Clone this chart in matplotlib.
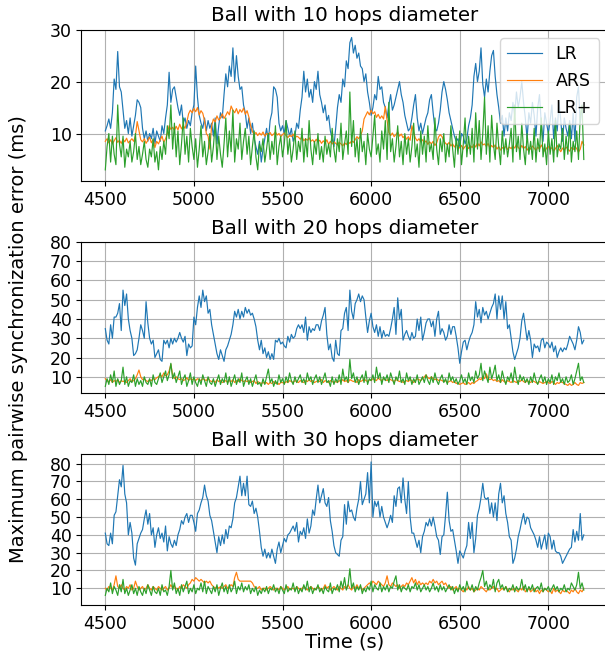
import numpy as np
import matplotlib
matplotlib.use('Agg')
import matplotlib.pyplot as plt

# sampling grid of the traces (s)
time_s = np.arange(4500, 7201, 10)

# ---- Ball with 10 hops diameter ----
lr_10 = [
    10.5, 11.5, 12.8, 11.0, 14.0, 20.5, 18.5, 25.8, 19.0, 18.0,
    14.5, 11.0, 12.5, 10.0, 13.0, 9.5, 11.5, 13.5, 16.5, 16.0,
    15.0, 11.0, 9.0, 10.5, 8.5, 10.0, 9.0, 11.0, 8.0, 10.5,
    9.5, 8.5, 11.5, 10.0, 13.0, 15.5, 21.8, 16.0, 18.5, 19.0,
    17.0, 15.0, 13.5, 15.5, 12.0, 13.0, 11.0, 12.5, 11.5, 14.0,
    15.5, 23.0, 17.0, 13.5, 12.0, 11.0, 13.0, 10.5, 12.5, 11.0,
    12.0, 9.5, 13.0, 8.0, 11.5, 14.0, 13.0, 17.5, 21.5, 19.0,
    23.0, 21.0, 26.5, 20.0, 25.0, 21.0, 18.5, 19.0, 15.5, 14.0,
    11.0, 13.0, 10.0, 12.0, 9.0, 7.5, 6.0, 8.5, 4.5, 7.0,
    9.0, 11.0, 8.5, 12.5, 14.0, 19.0, 18.5, 17.0, 12.0, 10.5,
    11.5, 10.0, 12.5, 11.0, 9.5, 11.0, 8.5, 9.5, 12.0, 11.0,
    14.5, 17.0, 22.0, 18.0, 20.5, 17.0, 18.5, 16.0, 20.0, 18.5,
    22.0, 17.5, 16.0, 14.0, 15.5, 12.5, 13.5, 10.5, 9.0, 7.5,
    11.0, 15.0, 17.5, 16.0, 20.5, 19.0, 24.0, 22.5, 27.5, 28.5,
    25.5, 27.0, 24.5, 25.5, 23.0, 22.5, 20.0, 21.5, 18.0, 16.0,
    13.5, 15.0, 17.5, 16.5, 21.0, 18.5, 19.0, 16.0, 15.0, 13.0,
    15.5, 17.5, 14.5, 15.5, 17.0, 18.5, 20.0, 17.5, 16.0, 13.5,
    12.0, 10.5, 11.0, 13.0, 15.5, 17.5, 13.0, 10.5, 12.0, 10.0,
    11.5, 13.0, 14.0, 16.5, 17.5, 14.0, 11.0, 10.5, 12.0, 14.5,
    18.0, 20.0, 18.5, 16.5, 14.0, 12.5, 11.0, 9.5, 8.5, 9.0,
    7.5, 10.0, 9.5, 8.0, 9.0, 11.5, 13.0, 15.5, 21.0, 23.5,
    20.0, 22.0, 26.5, 19.5, 17.0, 20.5, 18.0, 22.0, 25.0, 26.0,
    21.0, 17.5, 15.0, 12.0, 13.5, 9.5, 13.0, 10.5, 14.0, 12.5,
    16.0, 13.5, 18.0, 15.0, 17.0, 20.0, 16.0, 13.0, 9.0, 14.0,
    12.0, 16.0, 13.5, 9.5, 15.0, 17.5, 12.0, 8.5, 14.0, 12.0,
    10.0, 12.5, 15.5, 9.0, 13.0, 10.5, 16.0, 12.5, 8.5, 13.0,
    11.0, 9.5, 12.5, 9.0, 14.0, 8.5, 17.0, 19.0, 12.0, 15.0,
    14.0]
ars_10 = [
    8.5, 9.0, 8.2, 8.8, 8.0, 8.6, 9.2, 8.3, 8.7, 8.1,
    8.9, 8.4, 9.1, 8.2, 8.6, 9.0, 8.5, 9.6, 12.3, 10.5,
    8.8, 8.4, 9.0, 8.1, 8.7, 9.3, 8.2, 8.9, 7.3, 8.5,
    8.0, 8.8, 9.5, 8.3, 9.0, 10.0, 11.5, 10.8, 11.2, 10.6,
    11.4, 10.7, 11.8, 10.9, 11.5, 11.0, 12.2, 13.8, 14.5, 14.0,
    14.8, 14.2, 15.0, 13.6, 14.4, 13.9, 12.5, 10.0, 9.5, 7.0,
    11.5, 12.8, 12.2, 13.4, 12.6, 13.0, 13.8, 12.9, 13.5, 14.2,
    13.6, 15.3, 14.5, 14.0, 14.8, 13.8, 14.6, 14.1, 14.9, 13.7,
    14.4, 13.2, 11.5, 10.4, 9.8, 10.2, 9.6, 10.1, 9.7, 10.3,
    9.5, 10.0, 9.8, 10.2, 9.6, 9.9, 10.3, 9.7, 10.0, 9.4,
    9.8, 10.1, 9.6, 9.2, 9.7, 9.4, 9.9, 9.1, 9.5, 9.3,
    8.9, 9.4, 8.6, 9.0, 8.7, 9.2, 8.5, 8.8, 8.3, 8.9,
    8.4, 8.7, 8.1, 8.6, 8.2, 8.8, 7.9, 8.5, 8.0, 8.4,
    8.1, 7.8, 8.3, 8.0, 7.6, 8.2, 7.9, 8.4, 8.1, 8.6,
    8.3, 8.8, 9.4, 9.0, 9.6, 10.5, 12.8, 13.5, 14.2, 13.6,
    14.5, 13.8, 14.2, 13.1, 13.7, 12.9, 13.4, 12.8, 15.2, 12.5,
    10.2, 9.6, 10.1, 9.4, 9.8, 10.3, 9.5, 9.9, 9.2, 9.6,
    8.9, 9.4, 8.7, 11.5, 10.2, 9.1, 8.6, 9.0, 8.4, 8.8,
    8.2, 8.6, 7.9, 8.4, 8.0, 8.5, 7.7, 8.2, 9.3, 9.8,
    9.4, 8.6, 8.1, 7.8, 8.3, 7.6, 8.0, 7.4, 7.9, 7.5,
    7.2, 7.7, 7.0, 7.5, 7.8, 7.1, 7.6, 7.3, 7.9, 7.4,
    8.2, 7.6, 8.4, 7.8, 8.0, 7.5, 8.1, 7.2, 7.7, 7.3,
    7.8, 7.0, 7.5, 6.8, 7.3, 7.0, 7.6, 6.9, 7.4, 7.1,
    7.6, 7.2, 7.9, 7.3, 7.0, 7.7, 7.1, 7.5, 6.8, 7.3,
    7.0, 7.6, 7.2, 6.7, 7.4, 7.0, 7.8, 7.1, 6.6, 7.2,
    7.5, 6.9, 7.3, 6.6, 7.1, 7.7, 7.0, 6.5, 7.2, 6.8,
    7.4, 7.0, 6.6, 7.3, 6.9, 7.5, 7.1, 6.4, 7.0, 8.5,
    7.8]
lrp_10 = [
    3.0, 7.5, 10.0, 4.5, 9.5, 6.0, 4.0, 15.5, 8.0, 5.5,
    9.5, 3.5, 7.0, 5.5, 8.5, 4.5, 6.5, 10.0, 5.0, 7.5,
    4.0, 6.0, 8.5, 5.0, 3.5, 7.0, 5.5, 9.0, 4.5, 6.5,
    3.0, 7.5, 5.0, 8.5, 6.0, 11.5, 9.0, 15.5, 7.0, 12.0,
    5.5, 10.5, 4.0, 8.0, 13.0, 6.0, 9.5, 4.5, 11.0, 7.5,
    5.0, 9.0, 3.5, 7.0, 11.5, 5.5, 8.5, 4.0, 6.5, 10.0,
    4.5, 7.5, 12.0, 5.0, 9.5, 6.0, 3.5, 8.0, 13.0, 5.5,
    10.5, 6.5, 14.5, 4.5, 9.0, 7.0, 12.0, 5.0, 8.5, 11.0,
    6.0, 9.5, 4.0, 7.5, 10.5, 5.5, 3.0, 8.0, 6.5, 9.0,
    4.5, 7.0, 10.0, 5.0, 8.5, 6.0, 11.5, 4.0, 7.5, 9.5,
    5.5, 8.0, 12.5, 6.0, 9.0, 4.5, 7.0, 10.5, 5.0, 8.5,
    6.5, 11.0, 4.5, 9.0, 5.5, 12.5, 7.0, 4.0, 8.5, 6.0,
    10.0, 5.0, 7.5, 4.5, 9.5, 6.0, 8.0, 5.5, 11.0, 7.0,
    4.5, 9.0, 6.5, 12.0, 5.0, 8.0, 10.5, 6.0, 18.0, 7.5,
    12.5, 5.5, 9.0, 4.5, 11.0, 6.5, 8.5, 4.0, 10.0, 7.0,
    5.5, 9.5, 13.5, 6.0, 8.0, 4.5, 10.5, 7.0, 12.5, 5.0,
    16.0, 6.5, 9.0, 4.5, 7.5, 11.5, 5.5, 8.5, 4.0, 10.0,
    6.0, 9.0, 4.5, 7.5, 12.0, 5.5, 8.0, 3.5, 10.5, 6.0,
    9.5, 4.5, 11.5, 6.5, 8.0, 5.0, 13.0, 7.0, 4.0, 9.0,
    6.5, 10.0, 4.5, 8.0, 5.5, 11.5, 7.0, 3.5, 9.5, 6.0,
    10.5, 4.0, 8.0, 13.0, 5.5, 9.5, 6.0, 11.0, 4.5, 14.0,
    7.0, 12.5, 5.0, 10.0, 17.0, 6.0, 11.5, 4.5, 13.5, 8.0,
    5.0, 12.0, 7.5, 4.0, 10.5, 6.0, 9.0, 5.5, 8.0, 11.0,
    4.5, 15.5, 6.5, 9.5, 5.0, 12.0, 7.0, 4.0, 10.0, 6.0,
    8.5, 5.0, 11.0, 4.5, 9.0, 6.5, 13.0, 5.5, 8.0, 4.0,
    10.5, 6.0, 9.0, 4.5, 12.5, 5.5, 8.0, 7.0, 11.0, 5.0,
    9.5, 6.0, 12.0, 4.5, 8.5, 6.5, 10.5, 5.0, 13.5, 15.5,
    5.0]

# ---- Ball with 20 hops diameter ----
lr_20 = [
    35, 29, 27, 37, 30, 41, 41, 43, 48, 34,
    55, 47, 53, 40, 34, 30, 21, 22, 24, 30,
    37, 34, 30, 49, 38, 30, 27, 29, 20, 22,
    24, 19, 18, 29, 27, 29, 25, 30, 27, 30,
    28, 30, 33, 30, 28, 31, 21, 27, 25, 26,
    41, 37, 46, 52, 46, 55, 49, 52, 43, 45,
    37, 32, 27, 22, 19, 24, 21, 18, 24, 26,
    29, 32, 37, 44, 41, 45, 40, 44, 41, 46,
    43, 45, 42, 43, 40, 36, 29, 24, 29, 22,
    25, 20, 23, 19, 22, 19, 29, 28, 30, 27,
    28, 26, 25, 31, 28, 32, 30, 31, 35, 37,
    35, 37, 33, 41, 29, 36, 33, 35, 34, 37,
    37, 34, 39, 42, 46, 32, 24, 27, 20, 18,
    29, 22, 21, 34, 35, 43, 46, 34, 55, 44,
    40, 48, 50, 53, 49, 52, 50, 41, 33, 39,
    43, 36, 33, 37, 31, 36, 30, 34, 31, 32,
    31, 35, 40, 46, 32, 51, 40, 45, 29, 32,
    34, 31, 29, 33, 30, 31, 40, 34, 41, 29,
    33, 38, 40, 40, 36, 39, 31, 40, 44, 32,
    35, 33, 29, 31, 37, 32, 36, 36, 31, 25,
    17, 23, 28, 29, 24, 28, 31, 33, 37, 49,
    41, 45, 38, 46, 42, 44, 40, 43, 46, 48,
    53, 40, 52, 45, 52, 40, 49, 35, 37, 30,
    23, 19, 22, 25, 30, 39, 43, 36, 29, 34,
    29, 20, 27, 25, 26, 23, 29, 30, 25, 28,
    27, 25, 28, 23, 26, 20, 23, 25, 23, 25,
    24, 27, 31, 29, 27, 24, 29, 36, 33, 27,
    29]
ars_20 = [
    9, 8, 7.5, 8.5, 7, 8, 7.5, 8.5, 7, 8,
    7.5, 8, 7, 8, 9, 7.5, 8, 9, 11, 13.5,
    10, 8.5, 9, 8, 7.5, 8.5, 8, 9, 8.5, 9.5,
    10, 11, 10, 12, 10.5, 11, 13, 16.5, 11, 9,
    10, 9, 8.5, 9, 8, 8.5, 9.5, 8, 9, 8.5,
    9, 8, 9, 8.5, 8, 9, 8.5, 8, 9.5, 8,
    7.5, 8, 7, 8.5, 7.5, 8, 7, 7.5, 8, 7,
    8, 7.5, 8.5, 7, 8, 7.5, 9, 8, 7.5, 8,
    7.5, 8, 7, 7.5, 8, 6.5, 7.5, 7, 6.5, 7,
    6.5, 7, 6, 7, 6.5, 7.5, 6.5, 7, 6, 7,
    7, 6.5, 7.5, 7, 8, 7.5, 7, 8, 7.5, 7,
    8, 7.5, 7, 8, 7.5, 8.5, 7.5, 8, 7, 7.5,
    8, 7.5, 8.5, 7, 8, 7.5, 7, 8, 7.5, 7,
    7.5, 7, 8, 7.5, 8.5, 7.5, 8, 7, 8.5, 8,
    7.5, 8, 7, 8.5, 7.5, 8, 9, 8, 7.5, 8.5,
    8, 9, 8.5, 8, 9.5, 8.5, 8, 9, 8.5, 8,
    9, 8.5, 8, 7.5, 8.5, 8, 7.5, 8, 7, 7.5,
    8, 7.5, 8.5, 8, 7, 8, 9, 8.5, 8, 9,
    10, 11, 9.5, 9, 10, 9, 8.5, 9, 8, 8.5,
    8, 7.5, 8, 7, 7.5, 8, 7, 7.5, 6.5, 7,
    6, 6.5, 7, 6, 6.5, 7, 6, 7, 6.5, 7.5,
    8, 9, 8.5, 10, 9, 11.5, 9, 8.5, 9, 8,
    8.5, 7.5, 8, 7, 8.5, 7.5, 7, 8, 7.5, 7,
    8, 7.5, 7, 8, 7.5, 8.5, 7.5, 7, 8, 7.5,
    7, 8, 7.5, 7, 6.5, 7.5, 7, 6.5, 7, 7.5,
    7, 6.5, 7.5, 7, 6, 7, 6.5, 7.5, 7, 6.5,
    6, 5.5, 6.5, 5.5, 6, 7, 6, 5.5, 7, 6.5,
    7]
lrp_20 = [
    5, 9, 6, 11, 7, 13, 5, 9, 6, 8,
    15, 6, 10, 5, 8, 7, 11, 5, 9, 6,
    8, 5, 10, 7, 6, 9, 5, 11, 7, 6,
    9, 12, 7, 10, 13, 8, 11, 17, 9, 12,
    7, 10, 13, 6, 9, 11, 5, 8, 12, 6,
    10, 7, 5, 9, 6, 11, 8, 5, 10, 7,
    6, 9, 5, 8, 11, 6, 9, 7, 12, 6,
    10, 5, 8, 11, 6, 9, 7, 12, 5, 8,
    10, 6, 9, 5, 8, 11, 6, 7, 5, 9,
    6, 10, 14, 7, 9, 5, 8, 6, 11, 7,
    9, 6, 10, 7, 12, 8, 6, 10, 7, 9,
    11, 7, 9, 6, 12, 8, 10, 6, 9, 11,
    7, 10, 6, 9, 12, 7, 8, 5, 10, 6,
    9, 7, 11, 6, 14, 8, 10, 7, 19, 9,
    12, 7, 10, 6, 9, 11, 7, 13, 6, 9,
    8, 11, 7, 15, 9, 12, 6, 10, 8, 11,
    7, 12, 9, 6, 10, 8, 13, 7, 9, 6,
    12, 8, 10, 6, 9, 7, 11, 6, 8, 10,
    7, 11, 8, 6, 10, 7, 12, 8, 6, 9,
    11, 7, 9, 6, 12, 8, 10, 7, 9, 6,
    8, 11, 7, 9, 6, 12, 8, 10, 7, 13,
    9, 11, 17, 8, 13, 10, 7, 15, 9, 12,
    16, 8, 11, 7, 13, 9, 6, 10, 8, 12,
    7, 15, 9, 6, 11, 8, 10, 7, 9, 6,
    10, 7, 12, 8, 6, 9, 11, 7, 10, 6,
    9, 7, 11, 6, 10, 8, 12, 7, 9, 6,
    10, 7, 8, 11, 6, 9, 13, 17, 8, 10,
    7]

# ---- Ball with 30 hops diameter ----
lr_30 = [
    41, 35, 34, 41, 35, 51, 53, 62, 71, 67,
    79, 63, 58, 40, 47, 41, 27, 23, 35, 38,
    41, 43, 49, 54, 46, 52, 40, 44, 33, 40,
    44, 38, 41, 36, 45, 31, 39, 35, 33, 37,
    34, 40, 43, 48, 46, 50, 52, 47, 51, 51,
    47, 42, 52, 54, 58, 61, 68, 62, 59, 51,
    48, 42, 36, 30, 39, 34, 40, 35, 43, 38,
    45, 44, 49, 58, 61, 67, 73, 62, 69, 62,
    73, 57, 56, 59, 52, 55, 50, 42, 33, 28,
    32, 27, 30, 27, 32, 28, 24, 32, 36, 30,
    34, 38, 36, 40, 41, 43, 45, 42, 47, 36,
    42, 40, 44, 38, 49, 41, 45, 54, 51, 60,
    68, 58, 62, 66, 58, 56, 61, 48, 42, 34,
    30, 29, 28, 37, 39, 57, 46, 59, 53, 54,
    50, 48, 55, 60, 70, 57, 60, 63, 75, 58,
    81, 50, 59, 56, 59, 50, 56, 50, 47, 44,
    47, 51, 47, 62, 56, 66, 67, 58, 72, 60,
    52, 70, 50, 41, 41, 37, 33, 37, 30, 39,
    42, 47, 45, 49, 45, 50, 45, 39, 37, 29,
    39, 40, 51, 64, 48, 42, 43, 37, 31, 24,
    31, 29, 27, 31, 34, 47, 38, 47, 30, 38,
    51, 55, 61, 69, 61, 60, 61, 52, 58, 50,
    58, 48, 63, 69, 58, 62, 52, 47, 39, 37,
    24, 27, 32, 39, 43, 48, 52, 46, 50, 49,
    44, 42, 40, 37, 33, 39, 32, 36, 40, 32,
    41, 39, 32, 37, 31, 30, 30, 28, 24, 26,
    28, 30, 32, 33, 43, 36, 42, 37, 52, 37,
    40]
ars_30 = [
    10, 9, 11, 10, 9, 12, 17, 11, 10, 12,
    10, 9, 11, 10, 12, 9, 10, 14, 11, 9,
    10, 11, 9, 10, 12, 10, 9, 11, 10, 9,
    11, 10, 9, 10, 11, 9, 10, 12, 10, 11,
    10, 9, 11, 10, 12, 11, 10, 12, 13, 15,
    14, 16, 15, 14, 15, 14, 13, 14, 13, 14,
    12, 11, 10, 11, 10, 11, 10, 11, 12, 10,
    11, 12, 11, 16, 19, 15, 14, 14, 14, 14,
    14, 14, 14, 13, 11, 10, 10, 11, 9, 10,
    10, 9, 10, 11, 10, 9, 10, 10, 9, 11,
    10, 9, 10, 11, 9, 10, 10, 9, 11, 10,
    9, 10, 11, 10, 9, 10, 11, 10, 9, 10,
    11, 10, 9, 10, 12, 10, 11, 9, 10, 11,
    10, 9, 11, 10, 9, 11, 10, 12, 10, 9,
    11, 10, 12, 10, 11, 9, 10, 11, 12, 13,
    12, 14, 13, 12, 14, 13, 12, 11, 13, 17,
    12, 11, 13, 12, 11, 12, 10, 11, 12, 11,
    13, 12, 14, 16, 13, 15, 12, 14, 12, 13,
    12, 13, 12, 14, 13, 15, 13, 14, 12, 13,
    14, 12, 13, 11, 10, 11, 9, 10, 11, 9,
    10, 9, 8, 10, 9, 11, 9, 10, 8, 9,
    10, 9, 11, 10, 9, 8, 10, 9, 10, 11,
    9, 10, 8, 9, 10, 9, 11, 9, 8, 10,
    9, 10, 9, 8, 10, 9, 11, 8, 9, 10,
    8, 9, 10, 8, 9, 7, 9, 8, 10, 9,
    8, 9, 7, 10, 8, 9, 8, 7, 9, 8,
    9, 8, 7, 9, 8, 10, 8, 7, 9, 8,
    10]
lrp_30 = [
    6, 10, 8, 13, 7, 11, 9, 6, 12, 8,
    15, 7, 10, 6, 9, 12, 7, 10, 6, 11,
    8, 6, 10, 7, 12, 9, 6, 11, 8, 7,
    10, 6, 12, 8, 9, 6, 11, 20, 9, 13,
    7, 10, 6, 12, 8, 11, 14, 7, 10, 8,
    12, 7, 10, 9, 13, 8, 14, 7, 11, 9,
    7, 11, 8, 12, 6, 10, 13, 8, 11, 7,
    12, 8, 10, 14, 7, 11, 9, 13, 8, 11,
    9, 12, 7, 10, 8, 11, 6, 9, 7, 10,
    8, 11, 7, 10, 9, 12, 8, 10, 7, 11,
    9, 7, 12, 8, 10, 9, 13, 8, 11, 7,
    10, 8, 12, 9, 14, 8, 11, 7, 10, 9,
    12, 8, 10, 7, 11, 9, 8, 13, 7, 10,
    9, 12, 8, 14, 10, 16, 9, 12, 21, 10,
    13, 8, 11, 9, 12, 7, 10, 8, 11, 9,
    14, 8, 12, 10, 9, 13, 8, 11, 9, 12,
    8, 11, 10, 14, 17, 9, 12, 8, 11, 10,
    9, 12, 8, 11, 10, 13, 9, 12, 8, 10,
    12, 9, 11, 8, 10, 13, 9, 11, 8, 12,
    9, 11, 8, 10, 12, 9, 11, 7, 10, 8,
    12, 9, 11, 8, 14, 10, 9, 12, 8, 11,
    9, 13, 16, 20, 11, 14, 9, 12, 10, 15,
    8, 13, 15, 10, 12, 9, 11, 8, 10, 9,
    12, 8, 11, 9, 10, 15, 9, 12, 8, 11,
    9, 12, 8, 10, 11, 9, 13, 8, 10, 9,
    11, 8, 10, 12, 9, 11, 8, 10, 9, 12,
    8, 10, 9, 13, 11, 9, 12, 19, 10, 13,
    9]

panels = [
    ('Ball with 10 hops diameter', lr_10, ars_10, lrp_10, (0.8, 29.9), [10, 20, 30]),
    ('Ball with 20 hops diameter', lr_20, ars_20, lrp_20, (1.4, 80), list(range(10, 81, 10))),
    ('Ball with 30 hops diameter', lr_30, ars_30, lrp_30, (0.45, 85.3), list(range(10, 81, 10))),
]

fig = plt.figure(figsize=(6.05, 6.54), dpi=100)
# axes boxes in figure fraction (right edge runs a little past the canvas)
boxes = [[0.1345, 0.7228, 0.870, 0.2318],
         [0.1345, 0.3986, 0.870, 0.2314],
         [0.1345, 0.0745, 0.870, 0.2309]]

for i, (title, lr, ars, lrp, ylim, yt) in enumerate(panels):
    ax = fig.add_axes(boxes[i])
    ax.plot(time_s, lr, color='C0', lw=0.85, label='LR')
    ax.plot(time_s, ars, color='C1', lw=0.85, label='ARS')
    ax.plot(time_s, lrp, color='C2', lw=0.85, label='LR+')
    ax.set_xlim(4365, 7335)
    ax.set_ylim(*ylim)
    ax.set_xticks([4500, 5000, 5500, 6000, 6500, 7000])
    ax.set_yticks(yt)
    ax.tick_params(labelsize=12.5)
    ax.grid(True)
    ax.set_title(title, fontsize=14.3)
    if i == 0:
        ax.legend(loc='upper right', fontsize=12.5)
    if i == 2:
        ax.set_xlabel('Time (s)', fontsize=14, labelpad=0)

fig.text(0.03, 0.482, 'Maximum pairwise synchronization error (ms)',
         rotation=90, va='center', ha='center', fontsize=14)

plt.savefig('out.png', dpi=100)
